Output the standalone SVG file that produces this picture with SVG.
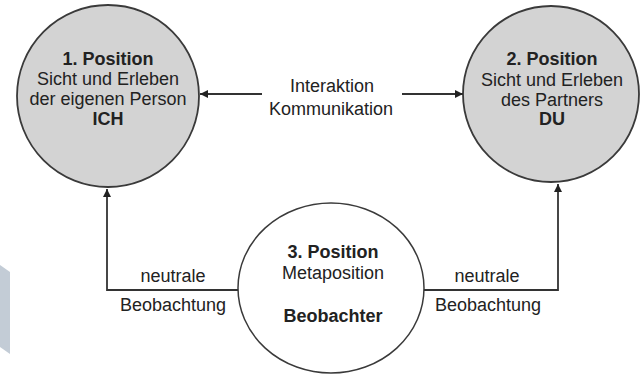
<svg xmlns="http://www.w3.org/2000/svg" width="643" height="375" viewBox="0 0 643 375">
<defs>
<style>
text{font-family:"Liberation Sans",Arial,sans-serif;font-size:18px;fill:#222;text-anchor:middle}
.b{font-weight:bold}
.pos{fill:#d3d3d3;stroke:#3a3a3a;stroke-width:1.8}
.meta{fill:#fff;stroke:#3a3a3a;stroke-width:1.5}
.con{fill:none;stroke:#333;stroke-width:1.8}
</style>
<marker id="ah" viewBox="0 0 10 10" refX="10" refY="5" markerWidth="10" markerHeight="8" markerUnits="userSpaceOnUse" orient="auto">
<path d="M0,0 L10,5 L0,10 z" fill="#222"/>
</marker>
</defs>
<rect width="643" height="375" fill="#fff"/>
<polygon points="0,265 10,272 10,354 0,347" fill="#c3ccd6"/>
<g id="node1">
<ellipse class="pos" cx="108" cy="96" rx="91" ry="91"/>
<text class="b" x="108" y="65">1. Position</text>
<text x="108" y="85">Sicht und Erleben</text>
<text x="108" y="105">der eigenen Person</text>
<text class="b" x="108" y="125">ICH</text>
</g>
<g id="node2">
<ellipse class="pos" cx="551" cy="94" rx="88" ry="88"/>
<text class="b" x="552" y="65">2. Position</text>
<text x="552" y="86">Sicht und Erleben</text>
<text x="552" y="106">des Partners</text>
<text class="b" x="552" y="125">DU</text>
</g>
<g id="node3">
<ellipse class="meta" cx="331" cy="288" rx="93" ry="85"/>
<text class="b" x="333" y="258">3. Position</text>
<text x="333" y="279">Metaposition</text>
<text class="b" x="333" y="322">Beobachter</text>
</g>
<g id="connectors">
<line class="con" x1="262" y1="94" x2="200" y2="94" marker-end="url(#ah)"/>
<line class="con" x1="402" y1="94" x2="463" y2="94" marker-end="url(#ah)"/>
<polyline class="con" points="238,290 107,290 107,189" marker-end="url(#ah)"/>
<polyline class="con" points="424,290 558,290 558,184" marker-end="url(#ah)"/>
<text x="332" y="92">Interaktion</text>
<text x="331" y="115">Kommunikation</text>
<text x="173" y="282">neutrale</text>
<text x="173" y="311">Beobachtung</text>
<text x="487" y="282">neutrale</text>
<text x="488" y="311">Beobachtung</text>
</g>
</svg>
